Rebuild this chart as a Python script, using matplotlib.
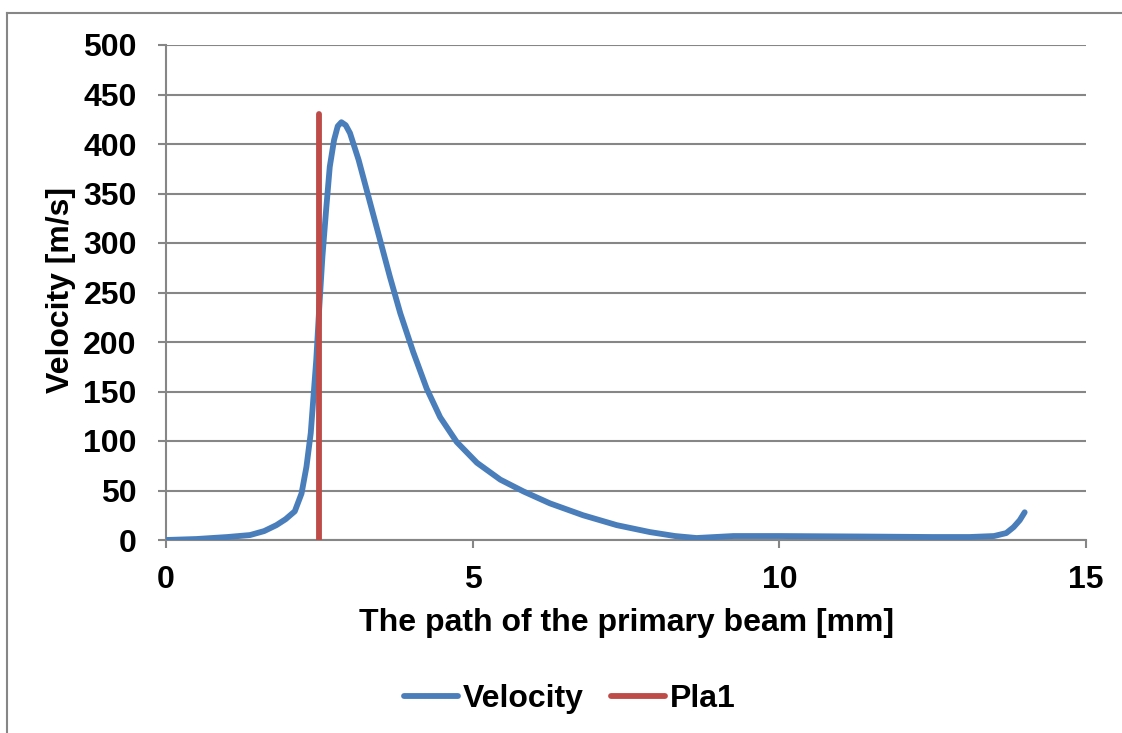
import matplotlib
matplotlib.use("Agg")
import matplotlib.pyplot as plt
from matplotlib.lines import Line2D

plt.rcParams['font.family'] = ['Liberation Sans', 'DejaVu Sans']
plt.rcParams['font.weight'] = 'bold'

# Velocity along the beam path
path_mm = [0.0, 0.5, 1.0, 1.37, 1.60, 1.80, 1.95, 2.10, 2.21, 2.29, 2.36, 2.40, 2.45,
           2.50, 2.55, 2.61, 2.67, 2.74, 2.80, 2.86, 2.93, 3.00, 3.14, 3.30, 3.46,
           3.65, 3.82, 4.03, 4.25, 4.47, 4.74, 5.07, 5.45, 5.83, 6.26, 6.80, 7.35,
           7.89, 8.30, 8.65, 9.25, 10.0, 11.4, 12.5, 13.1, 13.5, 13.7, 13.82, 13.92,
           14.0]
velocity = [0, 1, 3, 5, 9, 15, 21, 29, 47, 74, 108, 141, 182,
            236, 286, 333, 377, 404, 418, 422, 419, 411, 384, 347, 310,
            266, 229, 190, 153, 124, 99, 78, 61, 49, 37, 25, 15,
            8, 4, 2, 4, 4, 3.5, 3, 3, 4, 7, 13, 20,
            28]

# Pla1 marker line
pla1_x = [2.5, 2.5]
pla1_y = [0, 430]

blue = '#4A7EBB'
red = '#BE4B48'
grey = '#868686'
fs = 23

fig = plt.figure(figsize=(11.22, 7.33), dpi=100)
ax = fig.add_axes([166/1122, 1-540/733, 920/1122, 495/733])

ax.plot(path_mm, velocity, color=blue, lw=4.2, solid_capstyle='round',
        solid_joinstyle='round', zorder=3)
ax.plot(pla1_x, pla1_y, color=red, lw=4.2, solid_capstyle='round', zorder=4)

ax.set_xlim(0, 15)
ax.set_ylim(0, 500)
ax.set_xticks([0, 5, 10, 15])
ax.set_yticks(range(0, 501, 50))
ax.grid(axis='y', color=grey, lw=1.5)
ax.set_axisbelow(True)
for s in ['top', 'right']:
    ax.spines[s].set_visible(False)
for s in ['left', 'bottom']:
    ax.spines[s].set_color(grey)
    ax.spines[s].set_linewidth(1.5)
ax.tick_params(axis='both', direction='out', length=6, width=1.5, color=grey,
               labelsize=fs)
ax.tick_params(axis='x', pad=12)
ax.tick_params(axis='y', pad=15)
for lab in ax.get_xticklabels() + ax.get_yticklabels():
    lab.set_fontweight('bold')

ax.set_xlabel('The path of the primary beam [mm]', fontsize=fs, fontweight='bold')
ax.set_ylabel('Velocity [m/s]', fontsize=fs, fontweight='bold')
ax.xaxis.set_label_coords(0.5005, -0.138)
ax.yaxis.set_label_coords(-0.098, 0.505)

handles = [Line2D([], [], color=blue, lw=4.2, solid_capstyle='round'),
           Line2D([], [], color=red, lw=4.2, solid_capstyle='round')]
fig.legend(handles, ['Velocity', 'Pla1'], loc='center', bbox_to_anchor=(0.508, 1-699/733),
           ncol=2, frameon=False, fontsize=fs, handlelength=1.7, handletextpad=0.15,
           columnspacing=0.85)

# outer chart frame (cut off at the right and bottom)
fig.add_artist(Line2D([7/1122, 7/1122], [0, 1-13/733], color=grey, lw=1.5))
fig.add_artist(Line2D([7/1122, 1], [1-13/733, 1-13/733], color=grey, lw=1.5))

fig.savefig('out.png', dpi=100)
